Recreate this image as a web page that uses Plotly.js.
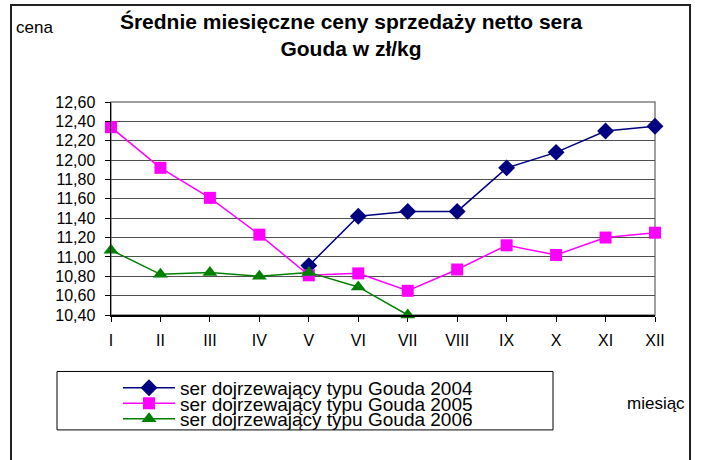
<!DOCTYPE html>
<html>
<head>
<meta charset="utf-8">
<script src="https://cdn.plot.ly/plotly-3.0.1.min.js"></script>
<style>html,body{margin:0;padding:0;background:#fff;}#chart{width:704px;height:460px;}</style>
</head>
<body>
<div id="chart"></div>
<script>
// ---- data ----
const months = ["I","II","III","IV","V","VI","VII","VIII","IX","X","XI","XII"];
const gouda2004 = [null,null,null,null,10.91,11.42,11.47,11.47,11.92,12.08,12.30,12.35];
const gouda2005 = [12.34,11.92,11.61,11.23,10.81,10.83,10.65,10.87,11.12,11.02,11.20,11.25];
const gouda2006 = [11.07,10.82,10.84,10.80,10.84,10.69,10.40,null,null,null,null,null];
const seriesNames = ["ser dojrzewający typu Gouda 2004","ser dojrzewający typu Gouda 2005","ser dojrzewający typu Gouda 2006"];
const titleText = "Średnie miesięczne ceny sprzedaży netto sera<br>Gouda w zł/kg";
const yLabel = "cena";
const xLabel = "miesiąc";

// ---- layout geometry ----
const W = 704, H = 460;
const M = {l:111, r:49, t:102, b:143};
const PW = W - M.l - M.r, PH = H - M.t - M.b;
const px = x => (x - M.l) / PW;
const py = y => (H - M.b - y) / PH;
const FONT = "Liberation Sans, Arial, sans-serif";
const LEGEND_ROW = 15.5;   // compact legend row spacing (px)
const LEGEND_SHIFT = 3;    // small downward nudge of legend rows (px)

const traces = [
  {x: months, y: gouda2004, name: seriesNames[0], mode: "lines+markers", cliponaxis: false,
   line: {color: "#000080", width: 1.5}, marker: {symbol: "diamond", size: 13, color: "#000080"}},
  {x: months, y: gouda2005, name: seriesNames[1], mode: "lines+markers", cliponaxis: false,
   line: {color: "#FF00FF", width: 1.5}, marker: {symbol: "square", size: 12, color: "#FF00FF"}},
  {x: months, y: gouda2006, name: seriesNames[2], mode: "lines+markers", cliponaxis: false,
   line: {color: "#008000", width: 1.5}, marker: {symbol: "triangle-up", size: 13, color: "#008000"}}
];

const layout = {
  width: W, height: H,
  margin: M,
  paper_bgcolor: "#fff", plot_bgcolor: "#fff",
  separators: ", ",
  font: {family: FONT, size: 16, color: "#000"},
  title: {text: titleText, font: {family: FONT, size: 21, weight: "bold", color: "#000"},
          x: 351/W, xanchor: "center", y: 1 - 29/H, yanchor: "top"},
  xaxis: {type: "category", range: [0, 11], showgrid: false, zeroline: false,
          showline: true, linecolor: "#000", linewidth: 1.5,
          ticks: "outside", ticklen: 5, tickcolor: "#000", tickwidth: 1,
          ticklabelstandoff: 5, tickfont: {family: FONT, size: 16}},
  yaxis: {range: [10.4, 12.6], dtick: 0.2, tick0: 10.4, tickformat: ".2f",
          showgrid: true, gridcolor: "#505050", gridwidth: 1, zeroline: false,
          showline: true, linecolor: "#000", linewidth: 1.5,
          ticks: "outside", ticklen: 5, tickcolor: "#000", tickwidth: 1,
          ticklabelstandoff: 6, tickfont: {family: FONT, size: 16}},
  showlegend: true,
  legend: {x: px(118), y: py(403.5), xanchor: "left", yanchor: "middle",
           bgcolor: "rgba(0,0,0,0)", borderwidth: 0, tracegroupgap: 0,
           font: {family: FONT, size: 19, color: "#000"}, itemwidth: 52},
  shapes: [
    {type: "rect", xref: "paper", yref: "paper", x0: 0, x1: 1, y0: 0, y1: 1,
     line: {color: "#808080", width: 1.5}, layer: "below"},
    {type: "rect", xref: "paper", yref: "paper", x0: px(57), x1: px(553), y0: py(433), y1: py(374),
     line: {color: "#000", width: 1}},
    {type: "rect", xref: "paper", yref: "paper", x0: px(11), x1: px(690), y0: py(475), y1: py(4),
     line: {color: "#222", width: 2}}
  ],
  annotations: [
    {text: yLabel, xref: "paper", yref: "paper", x: px(14), y: py(27), xanchor: "left", yanchor: "middle",
     showarrow: false, font: {family: FONT, size: 17, color: "#000"}},
    {text: xLabel, xref: "paper", yref: "paper", x: px(687), y: py(406), xanchor: "right", yanchor: "middle",
     showarrow: false, font: {family: FONT, size: 17, color: "#000"}}
  ]
};

Plotly.newPlot("chart", traces, layout, {displayModeBar: false, staticPlot: true}).then(gd => {
  // tighten legend row spacing to match the compact reference legend
  const items = Array.from(gd.querySelectorAll(".legend .traces"));
  const pos = items.map(el => {
    const m = /translate\(\s*([-\d.]+)[ ,]+([-\d.]+)\s*\)/.exec(el.getAttribute("transform") || "");
    return m ? [parseFloat(m[1]), parseFloat(m[2])] : null;
  });
  if (pos.length && pos.every(p => p)) {
    const mid = (pos[0][1] + pos[pos.length - 1][1]) / 2 + LEGEND_SHIFT;
    const c = (pos.length - 1) / 2;
    items.forEach((el, i) => {
      el.setAttribute("transform", "translate(" + pos[i][0] + "," + (mid + (i - c) * LEGEND_ROW) + ")");
    });
  }
});
</script>
</body>
</html>
